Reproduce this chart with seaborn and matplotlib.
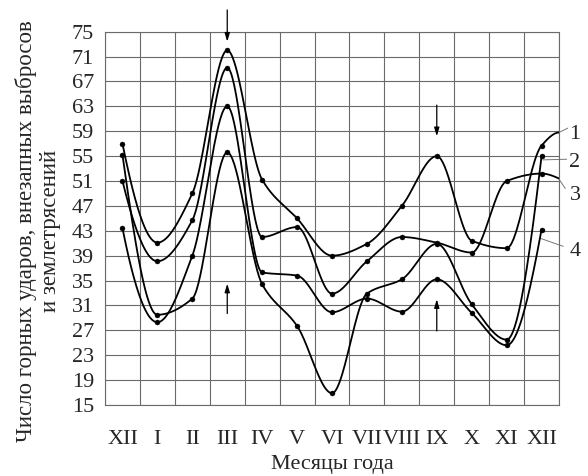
import numpy as np
import pandas as pd
import matplotlib
matplotlib.use("Agg")
import matplotlib.pyplot as plt
import seaborn as sns


months = ['XII', 'I', 'II', 'III', 'IV', 'V', 'VI', 'VII', 'VIII', 'IX', 'X', 'XI', 'XII']

curve_1 = [57, 41.1, 49, 72, 51.2, 45, 39, 40.9, 47, 55, 41.4, 40.2, 56.7]
curve_2 = [55.2, 29.5, 32.1, 55.6, 34.4, 27.7, 16.9, 32.9, 35.2, 40.9, 31.2, 25.5, 55]
curve_3 = [51, 38.1, 44.7, 69.2, 42, 43.6, 32.9, 38.1, 42, 41.1, 39.5, 51, 52.2]
curve_4 = [43.4, 28.3, 39, 63, 36.3, 35.8, 29.9, 32.1, 30, 35.2, 29.8, 24.6, 43.2]

# curves 1 and 3 run on past the last point up to the frame edge
tail_1 = 58.8
tail_3 = 51.4

curve_names = ['1', '2', '3', '4']
label_values = [58.4, 53.9, 48.7, 39.6]

y_ticks = list(range(15, 76, 4))


def slopes(xs, ys):
    '''shape preserving tangents (Fritsch-Carlson)'''
    h = np.diff(xs)
    d = np.diff(ys) / h
    m = np.zeros(len(xs))
    for k in range(1, len(xs) - 1):
        if d[k - 1] * d[k] <= 0:
            m[k] = 0.0
        else:
            w1 = 2 * h[k] + h[k - 1]
            w2 = h[k] + 2 * h[k - 1]
            m[k] = (w1 + w2) / (w1 / d[k - 1] + w2 / d[k])

    def end(h0, h1, d0, d1):
        s = ((2 * h0 + h1) * d0 - h0 * d1) / (h0 + h1)
        if np.sign(s) != np.sign(d0):
            s = 0.0
        elif np.sign(d0) != np.sign(d1) and abs(s) > abs(3 * d0):
            s = 3 * d0
        return s

    m[0] = end(h[0], h[1], d[0], d[1])
    m[-1] = end(h[-1], h[-2], d[-1], d[-2])
    return m


def smooth(xs, ys, n=40):
    xs = np.asarray(xs, float)
    ys = np.asarray(ys, float)
    m = slopes(xs, ys)
    out_x, out_y = [], []
    for i in range(len(xs) - 1):
        h = xs[i + 1] - xs[i]
        t = np.linspace(0, 1, n, endpoint=False)
        h00 = 2 * t**3 - 3 * t**2 + 1
        h10 = t**3 - 2 * t**2 + t
        h01 = -2 * t**3 + 3 * t**2
        h11 = t**3 - t**2
        out_x.extend(xs[i] + t * h)
        out_y.extend(h00 * ys[i] + h10 * h * m[i] + h01 * ys[i + 1] + h11 * h * m[i + 1])
    out_x.append(xs[-1])
    out_y.append(ys[-1])
    return np.array(out_x), np.array(out_y)


sns.set_style("white")
plt.rcParams['font.family'] = ['Liberation Serif', 'DejaVu Serif']

fig, ax = plt.subplots(figsize=(5.88, 4.76), dpi=100)
plt.subplots_adjust(left=0.1786, right=0.9507, top=0.9334, bottom=0.1492)

x_pos = np.arange(len(months))
grid_col = '#6a6a6a'
fs = 16

all_curves = [curve_1, curve_2, curve_3, curve_4]
tails = [tail_1, None, tail_3, None]

for vals, tail in zip(all_curves, tails):
    xs = list(x_pos)
    ys = list(vals)
    if tail is not None:
        xs.append(len(months) - 0.5)
        ys.append(tail)
    sx, sy = smooth(xs, ys)
    df = pd.DataFrame({'x': sx, 'y': sy})
    sns.lineplot(data=df, x='x', y='y', sort=False, estimator=None,
                 color='black', lw=1.3, ax=ax, zorder=3)
    sns.scatterplot(x=x_pos, y=vals, color='black', s=13, edgecolor=None,
                    ax=ax, zorder=4)

ax.set_xlim(-0.5, len(months) - 0.5)
ax.set_ylim(15, 75)
ax.set_yticks(y_ticks)
ax.set_xticks(x_pos)
ax.set_xticklabels(months)
ax.set_xticks(np.arange(-0.5, len(months), 1), minor=True)

ax.grid(True, which='major', axis='y', color=grid_col, lw=0.8)
ax.grid(True, which='minor', axis='x', color=grid_col, lw=0.8)
ax.set_axisbelow(True)
for sp in ax.spines.values():
    sp.set_color(grid_col)
    sp.set_linewidth(0.8)

ax.tick_params(axis='x', which='major', length=0, pad=18, labelsize=fs)
ax.tick_params(axis='x', which='minor', length=3, color=grid_col, width=0.8)
ax.tick_params(axis='y', which='major', length=3, color=grid_col, width=0.8,
               pad=5, labelsize=fs)

ax.set_xlabel('Месяцы года', fontsize=fs, labelpad=4)
ax.set_ylabel('')
fig.text(38 / 588, 1 - 231 / 476,
         'Число горных ударов, внезапных выбросов\nи землетрясений',
         rotation=90, ha='center', va='center', fontsize=16.5,
         multialignment='center', linespacing=1.15)

# arrows pointing at the peaks
arrows = [(3, 78.5, 73.4), (3, 29.7, 34.5), (9, 63.2, 58.2), (9, 26.9, 32.0)]
for ax_x, y_from, y_to in arrows:
    ax.annotate('', xy=(ax_x, y_to), xytext=(ax_x, y_from),
                arrowprops=dict(arrowstyle='-|>,head_length=0.5,head_width=0.15',
                                lw=0.9, color='black', shrinkA=0, shrinkB=0),
                annotation_clip=False)

# curve numbers with leader lines
leaders = [((12.5, 58.8), (12.75, 59.5)),
           ((12.04, 54.4), (12.72, 54.5)),
           ((12.5, 51.3), (12.68, 49.8)),
           ((11.96, 41.8), (12.62, 40.5))]
for name, yv, (p0, p1) in zip(curve_names, label_values, leaders):
    ax.plot([p0[0], p1[0]], [p0[1], p1[1]], color='#777777', lw=0.7,
            clip_on=False)
    ax.text(12.8, yv, name, ha='left', va='center', fontsize=fs, clip_on=False)

plt.savefig('out.png', dpi=100)
